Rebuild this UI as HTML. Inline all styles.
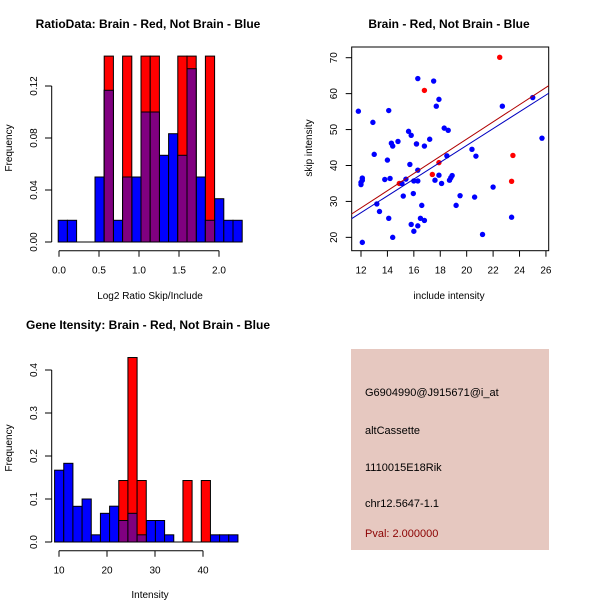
<!DOCTYPE html>
<html><head><meta charset="utf-8"><style>
body{margin:0;background:#fff}
svg{display:block;font-family:"Liberation Sans",sans-serif}
.t{font-weight:bold;font-size:12px}
.l{font-size:10px}
.k{font-size:11px}
</style></head><body>
<svg id="s" width="600" height="600" viewBox="0 0 600 600">
<text class="t" x="148" y="28" text-anchor="middle">RatioData: Brain - Red, Not Brain - Blue</text>
<text class="t" x="449" y="28" text-anchor="middle">Brain - Red, Not Brain - Blue</text>
<text class="t" x="148" y="329" text-anchor="middle">Gene Itensity: Brain - Red, Not Brain - Blue</text>
<text class="l" x="150" y="299" text-anchor="middle">Log2 Ratio Skip/Include</text>
<text class="l" transform="translate(12,148) rotate(-90)" text-anchor="middle">Frequency</text>
<text class="l" x="449" y="299" text-anchor="middle">include intensity</text>
<text class="l" transform="translate(312,148) rotate(-90)" text-anchor="middle">skip intensity</text>
<text class="l" x="150" y="598" text-anchor="middle">Intensity</text>
<text class="l" transform="translate(12,448) rotate(-90)" text-anchor="middle">Frequency</text>
<g>
<rect x="351" y="349" width="198" height="201" fill="#e6c8c0"/>
<text class="k" x="365" y="396">G6904990@J915671@i_at</text>
<text class="k" x="365" y="434">altCassette</text>
<text class="k" x="365" y="471">1110015E18Rik</text>
<text class="k" x="365" y="507">chr12.5647-1.1</text>
<text class="k" x="365" y="537" fill="#8b0000">Pval: 2.000000</text>
</g>
</svg>
<script>
// ratio histogram
const ratioBinStart=-0.01, ratioBinWidth=0.115;
const ratioBlue=[0.0167,0.0167,0,0,0.05,0.1167,0.0167,0.05,0.05,0.1,0.1,0.0667,0.0833,0.0667,0.1333,0.05,0.0167,0.0333,0.0167,0.0167];
const ratioRed=[0,0,0,0,0,0.143,0,0.143,0,0.143,0.143,0,0,0.143,0.143,0,0.143,0,0,0];
const ratioXTicks=["0.0","0.5","1.0","1.5","2.0"];
const ratioYTicks=["0.00","0.04","0.08","0.12"];
// intensity histogram
const intBinStart=9.08, intBinWidth=1.91;
const intBlue=[0.167,0.183,0.083,0.1,0.0167,0.0667,0.0833,0.05,0.0667,0.0167,0.05,0.05,0.0167,0,0,0,0,0.0167,0.0167,0.0167];
const intRed=[0,0,0,0,0,0,0,0.143,0.429,0.143,0,0,0,0,0.143,0,0.143,0,0,0];
const intXTicks=["10","20","30","40"];
const intYTicks=["0.0","0.1","0.2","0.3","0.4"];
// scatter
const blueX=[11.8,12.9,13.0,14.1,12.0,12.0,12.1,12.1,12.1,13.2,13.4,13.8,14.0,14.2,14.1,14.4,14.3,14.4,14.8,15.1,15.2,15.4,15.6,15.8,15.7,15.96,15.8,16.0,16.3,16.0,16.3,16.3,16.2,16.3,16.5,16.6,16.8,16.8,17.2,17.5,17.7,17.9,17.6,17.9,18.1,18.3,18.6,18.5,18.7,18.8,18.9,19.2,19.5,20.4,20.7,20.6,21.2,22.0,22.7,23.4,25.0,25.7];
const blueY=[55.1,52.0,43.1,55.3,34.7,35.3,35.9,36.5,18.6,29.3,27.2,36.1,41.5,36.4,25.3,20.0,46.2,45.4,46.7,35.0,31.5,36.2,49.5,48.4,40.3,32.2,23.6,21.7,23.2,35.7,35.7,38.7,46.0,64.2,25.3,28.9,24.7,45.4,47.3,63.5,56.5,58.4,35.9,37.3,35.0,50.4,49.8,42.7,35.9,36.6,37.2,28.9,31.6,44.5,42.6,31.2,20.8,34.0,56.5,25.6,58.9,47.6];
const redX=[16.8,22.5,23.5,23.4,17.4,17.9,16.2,14.9];
const redY=[60.9,70.1,42.8,35.6,37.5,40.8,46.0,35.0];
const redFit=[-0.53,2.394], blueFit=[-1.22,2.34];
const scXTicks=[12,14,16,18,20,22,24,26];
const scYTicks=[20,30,40,50,60,70];

const NS="http://www.w3.org/2000/svg", S=document.getElementById('s');
function mk(t,a,p){const e=document.createElementNS(NS,t);for(const k in a)e.setAttribute(k,a[k]);(p||S).appendChild(e);return e;}
function g(name){const e=mk('g',{});


return e;}

function hist(name,start,w,blue,red,xs,ys,yMax,xTicks,yTicks,axY,axX,tickVal0,tickStep,yStep){
  const G=g(name);
  const sx=v=>59+(v-xs[0])*xs[1], sy=v=>ys[0]-v*ys[1];
  blue.forEach((b,i)=>{const x0=sx(start+i*w),x1=sx(start+(i+1)*w);
    if(b>0){const r=mk('rect',{x:x0,y:sy(b),width:x1-x0,height:sy(0)-sy(b),fill:'#0000ff',stroke:'#000','stroke-width':1},G);
    
    }
  });
  red.forEach((b,i)=>{const x0=sx(start+i*w),x1=sx(start+(i+1)*w);
    if(b>0){const r=mk('rect',{x:x0,y:sy(b),width:x1-x0,height:sy(0)-sy(b),fill:'#ff0000',stroke:'#000','stroke-width':1},G);
    
    
    const m=Math.min(b,blue[i]);
    if(m>0){const p=mk('rect',{x:x0,y:sy(m),width:x1-x0,height:sy(0)-sy(m),fill:'#800080',stroke:'#000','stroke-width':1},G);
    
    }}
  });
  // axes
  mk('line',{x1:51.7,x2:51.7,y1:sy(0),y2:sy(yStep*(yTicks.length-1)),stroke:'#000'},G);
  yTicks.forEach((t,i)=>{const y=sy(i*yStep);mk('line',{x1:45,x2:51.7,y1:y,y2:y,stroke:'#000'},G);
    const tx=mk('text',{class:'l',transform:`translate(37,${y}) rotate(-90)`,'text-anchor':'middle'},G);tx.textContent=t;});
  const xa=sx(tickVal0), xb=sx(tickVal0+tickStep*(xTicks.length-1));
  mk('line',{x1:xa,x2:xb,y1:axX,y2:axX,stroke:'#000'},G);
  xTicks.forEach((t,i)=>{const x=sx(tickVal0+i*tickStep);mk('line',{x1:x,x2:x,y1:axX,y2:axX+6,stroke:'#000'},G);
    const tx=mk('text',{class:'l',x:x,y:axX+23,'text-anchor':'middle'},G);tx.textContent=t;});
  // baseline
  mk('line',{x1:sx(start),x2:sx(start+w*blue.length),y1:sy(0),y2:sy(0),stroke:'#000'},G);
}
hist('ratio-histogram',ratioBinStart,ratioBinWidth,ratioBlue,ratioRed,[0,80],[242,1300],0.14,ratioXTicks,ratioYTicks,0,250.7,0,0.5,0.04);
hist('intensity-histogram',intBinStart,intBinWidth,intBlue,intRed,[10,4.8],[542,430],0.43,intXTicks,intYTicks,0,550.7,10,10,0.1);

// scatter
const SG=g('scatter-plot');
const px=v=>361+(v-12)*13.21, py=v=>57.7+(70-v)*3.593;
mk('rect',{x:351.7,y:47,width:197,height:203.7,fill:'none',stroke:'#000'},SG);
scXTicks.forEach(t=>{const x=px(t);mk('line',{x1:x,x2:x,y1:250.7,y2:256.7,stroke:'#000'},SG);
  const tx=mk('text',{class:'l',x:x,y:273.7,'text-anchor':'middle'},SG);tx.textContent=t;});
scYTicks.forEach(t=>{const y=py(t);mk('line',{x1:345.7,x2:351.7,y1:y,y2:y,stroke:'#000'},SG);
  const tx=mk('text',{class:'l',transform:`translate(337,${y}) rotate(-90)`,'text-anchor':'middle'},SG);tx.textContent=t;});
const clip=mk('clipPath',{id:'cp'},SG);mk('rect',{x:351.7,y:47,width:197,height:203.7},clip);
const PG=mk('g',{'clip-path':'url(#cp)'},SG);
redX.forEach((x,i)=>{const c=mk('circle',{cx:px(x),cy:py(redY[i]),r:2.7,fill:'#ff0000'},PG);
  
  });
blueX.forEach((x,i)=>{const c=mk('circle',{cx:px(x),cy:py(blueY[i]),r:2.7,fill:'#0000ff'},PG);
  
  });
[[redFit,'#b00000','red-fit-line'],[blueFit,'#0000c0','blue-fit-line']].forEach(([f,c,n])=>{
  const l=mk('line',{x1:px(10),y1:py(f[0]+f[1]*10),x2:px(28),y2:py(f[0]+f[1]*28),stroke:c,'stroke-width':1},PG);
  
  });
</script>
</body></html>
